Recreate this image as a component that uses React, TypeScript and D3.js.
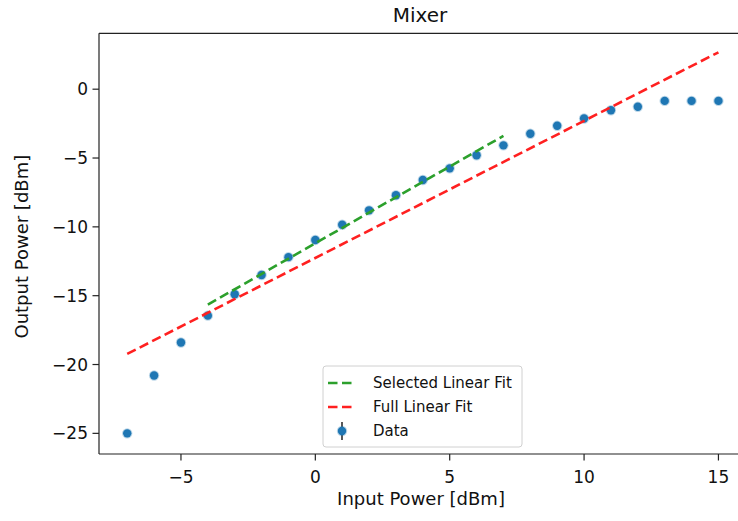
import React from "react";
import * as d3 from "d3";

const inputPower = [-7, -6, -5, -4, -3, -2, -1, 0, 1, 2, 3, 4, 5, 6, 7, 8, 9, 10, 11, 12, 13, 14, 15];
const outputPower = [-25.0, -20.8, -18.4, -16.45, -14.9, -13.5, -12.2, -10.95, -9.85, -8.8, -7.7, -6.6, -5.75, -4.8, -4.08, -3.24, -2.66, -2.13, -1.53, -1.28, -0.85, -0.85, -0.85];

const selectedFitX = [-4, 7];
const selectedFitY = [-15.65, -3.39];
const fullFitX = [-7, 15];
const fullFitY = [-19.23, 2.68];

const xTicks = [-5, 0, 5, 10, 15];
const yTicks = [0, -5, -10, -15, -20, -25];

const legendLabels = ["Selected Linear Fit", "Full Linear Fit", "Data"];

const W = 738;
const H = 521;
const FONT = "DejaVu Sans, sans-serif";

export default function App() {
  const left = 99, right = 748, top = 33.3, bottom = 454;
  const x = d3.scaleLinear().domain([-8.05, 16.1]).range([left, right]);
  const y = d3.scaleLinear().domain([-26.5, 4.06]).range([bottom, top]);
  const line = d3.line<[number, number]>().x(d => x(d[0])).y(d => y(d[1]));
  const fmt = (v: number) => (v < 0 ? "\u2212" + Math.abs(v) : String(v));

  const selPts: [number, number][] = selectedFitX.map((v, i) => [v, selectedFitY[i]]);
  const fullPts: [number, number][] = fullFitX.map((v, i) => [v, fullFitY[i]]);

  const lg = { x: 323, y: 366, w: 199, h: 81 };

  return (
    <svg width={W} height={H} style={{ position: "absolute", left: 0, top: 0, background: "#fff" }} fontFamily={FONT}>
      <rect x={0} y={0} width={W} height={H} fill="#fff" />
      <text x={420} y={22} textAnchor="middle" fontSize={20} fill="#111">Mixer</text>

      {/* data points */}
      {inputPower.map((v, i) => (
        <circle key={i} cx={x(v)} cy={y(outputPower[i])} r={4.2} fill="#1f77b4" stroke="rgba(31,119,180,0.3)" strokeWidth={2} />
      ))}

      <path d={line(selPts) || ""} fill="none" stroke="#2ca02c" strokeWidth={2.6} strokeDasharray="9.5,4.5" />
      <path d={line(fullPts) || ""} fill="none" stroke="#ff2020" strokeWidth={2.6} strokeDasharray="9.5,4.5" />

      {/* spines */}
      <line x1={left} x2={left} y1={top} y2={bottom} stroke="#222" strokeWidth={1.2} />
      <line x1={left} x2={right} y1={bottom} y2={bottom} stroke="#222" strokeWidth={1.2} />
      <line x1={left} x2={right} y1={top} y2={top} stroke="#222" strokeWidth={1.2} />
      <line x1={right} x2={right} y1={top} y2={bottom} stroke="#222" strokeWidth={1.2} />

      {/* x ticks */}
      {xTicks.map(t => (
        <g key={t}>
          <line x1={x(t)} x2={x(t)} y1={bottom} y2={bottom + 6.5} stroke="#222" strokeWidth={1.2} />
          <text x={x(t)} y={bottom + 29} textAnchor="middle" fontSize={17} fill="#111">{fmt(t)}</text>
        </g>
      ))}
      {/* y ticks */}
      {yTicks.map(t => (
        <g key={t}>
          <line x1={left - 6.5} x2={left} y1={y(t)} y2={y(t)} stroke="#222" strokeWidth={1.2} />
          <text x={left - 11} y={y(t) + 6} textAnchor="end" fontSize={17} fill="#111">{fmt(t)}</text>
        </g>
      ))}

      <text x={421} y={505} textAnchor="middle" fontSize={18} fill="#111">Input Power [dBm]</text>
      <text transform={`translate(28,${(top + bottom) / 2 + 3}) rotate(-90)`} textAnchor="middle" fontSize={18} fill="#111">Output Power [dBm]</text>

      {/* legend */}
      <rect x={lg.x} y={lg.y} width={lg.w} height={lg.h} rx={3} fill="rgba(255,255,255,0.8)" stroke="#d0d0d0" strokeWidth={1} />
      <line x1={328} x2={356} y1={383} y2={383} stroke="#2ca02c" strokeWidth={2.6} strokeDasharray="9.5,4.5" />
      <line x1={328} x2={356} y1={407} y2={407} stroke="#ff2020" strokeWidth={2.6} strokeDasharray="9.5,4.5" />
      <line x1={342} x2={342} y1={422} y2={440} stroke="#222" strokeWidth={1.5} />
      <circle cx={342} cy={431} r={4.2} fill="#1f77b4" stroke="rgba(31,119,180,0.3)" strokeWidth={2} />
      {legendLabels.map((l, i) => (
        <text key={l} x={373} y={388 + i * 24} fontSize={15} fill="#111">{l}</text>
      ))}
    </svg>
  );
}
